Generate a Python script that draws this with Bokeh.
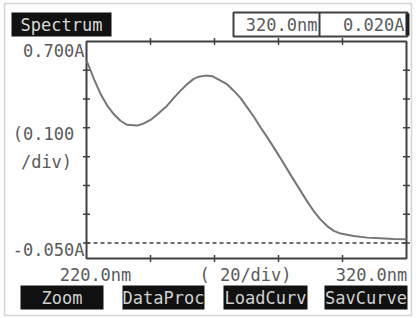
import math
from bokeh.plotting import figure
from bokeh.models import Range1d, Label, BoxAnnotation
from bokeh.embed import file_html
from bokeh.resources import INLINE

# ---- data ----
wavelength_nm = [220.0, 221.3, 222.3, 224.4, 226.5, 228.5, 230.6, 232.7, 235.8, 237.9,
                 240.0, 242.1, 245.2, 247.3, 249.4, 251.5, 253.5, 255.1, 257.2, 259.3,
                 261.9, 264.0, 266.0, 268.1, 270.2, 272.3, 274.4, 276.5, 278.5, 280.6,
                 282.7, 284.8, 286.9, 289.0, 291.0, 293.1, 295.2, 297.3, 299.4, 303.5,
                 307.7, 311.9, 316.0, 320.0]
absorbance = [0.629, 0.592, 0.561, 0.505, 0.461, 0.430, 0.405, 0.390, 0.387, 0.395,
              0.408, 0.428, 0.461, 0.490, 0.517, 0.542, 0.561, 0.569, 0.573, 0.571,
              0.554, 0.540, 0.517, 0.490, 0.455, 0.420, 0.380, 0.343, 0.306, 0.266,
              0.225, 0.184, 0.144, 0.104, 0.069, 0.038, 0.013, -0.005, -0.015, -0.024,
              -0.030, -0.032, -0.035, -0.036]
baseline_abs = -0.050
x_min, x_max = 220.0, 320.0
x_tick_values = [240, 260, 280, 300]
y_top = 0.700
y_bottom = -0.1077
n_ydiv = 7

FONT = "DejaVu Sans Mono"
TXT = "#5a5a5a"
LINE = "#404040"

W, H = 416, 318
FL, FT, FR, FB = 86, 41, 406, 258   # instrument frame edges in picture pixels
xs = (x_max - x_min) / (FR - FL)
ys = (y_top - y_bottom) / (FB - FT)

p = figure(width=W, height=H, output_backend="svg", toolbar_location=None,
           x_range=Range1d(x_min - FL * xs, x_min + (W - FL) * xs),
           y_range=Range1d(y_top - (H - FT) * ys, y_top + FT * ys),
           x_axis_location=None, y_axis_location=None,
           min_border=0)
p.background_fill_color = "#fefefe"
p.border_fill_color = "#fefefe"
p.grid.visible = False
p.outline_line_color = None

# instrument frame
p.quad(left=[x_min], right=[x_max], top=[y_top], bottom=[y_bottom],
       fill_color=None, line_color=LINE, line_width=2)

step = (y_top - baseline_abs) / n_ydiv
y_ticks = [y_top - k * step for k in range(1, n_ydiv)]
p.scatter([x_min] * len(y_ticks) + [x_max] * len(y_ticks), y_ticks * 2,
          marker="dash", size=7, line_color=LINE, line_width=1.5)
p.scatter(x_tick_values * 2, [y_top] * len(x_tick_values) + [y_bottom] * len(x_tick_values),
          marker="dash", angle=math.pi / 2, size=7, line_color=LINE, line_width=1.5)
p.scatter([x_min, x_max], [baseline_abs, baseline_abs],
          marker="dash", size=7, line_color=LINE, line_width=1.5)

# baseline and spectrum
p.line([x_min, x_max], [baseline_abs, baseline_abs], line_color=LINE,
       line_width=1.5, line_dash="4 3")
p.line(wavelength_nm, absorbance, line_color="#767676", line_width=2)

# screen units: measured from canvas lower-left, y upward
def sy(Y):
    return H - Y

def box(l, t, r, b, fill="#111111", line=None, lw=2):
    p.add_layout(BoxAnnotation(left=l, right=r, top=sy(t), bottom=sy(b),
                               left_units="screen", right_units="screen",
                               top_units="screen", bottom_units="screen",
                               fill_color=fill, fill_alpha=1.0 if fill else 0.0,
                               line_color=line, line_alpha=1.0,
                               line_width=lw if line else 0, level="overlay"))

def txt(x, y, s, align="left", color=TXT):
    p.add_layout(Label(x=x, y=sy(y), x_units="screen", y_units="screen", text=s,
                       text_font=FONT, text_font_size="17px", text_color=color,
                       text_align=align, text_baseline="middle", level="overlay"))

# outer photo border
box(4, 3, 411, 315, fill=None, line="#d4d4d4", lw=1.5)

# title / header
box(11, 12, 111, 36)
txt(61, 24, "Spectrum", "center", "#d8d8d8")
box(233, 12, 407, 36, fill="#fefefe", line=LINE)
txt(317, 24, "320.0nm", "right")
box(318, 12, 320, 36, fill=LINE)
box(405, 13, 409, 35, fill="#222222")
txt(404, 24, "0.020A", "right")

# axis texts
txt(84, 50, "0.700A", "right")
txt(43, 133, "(0.100", "center")
txt(46, 161, "/div)", "center")
txt(84, 249, "-0.050A", "right")
txt(95, 274, "220.0nm", "center")
txt(245, 274, "( 20/div)", "center")
txt(371, 274, "320.0nm", "center")

# softkeys
for (l, r, s) in [(20, 103, "Zoom"), (122, 204, "DataProc"), (223, 307, "LoadCurv"), (324, 407, "SavCurve")]:
    box(l, 285, r, 309)
    txt((l + r) / 2, 297, s, "center", "#d0d0d0")

open("out.html", "w").write(file_html(p, INLINE))
